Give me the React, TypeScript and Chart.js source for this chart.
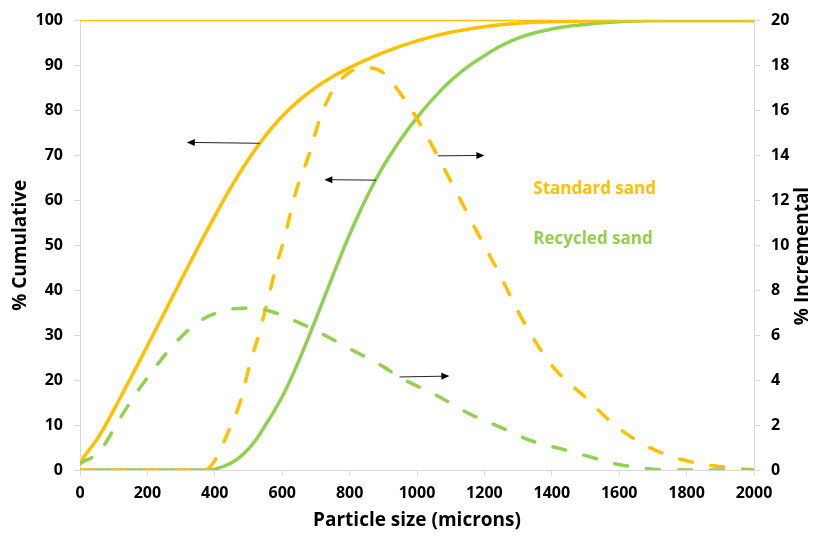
import React, { useEffect, useRef } from "react";
import { Chart, registerables } from "chart.js";

Chart.register(...registerables);

// ---------- data ----------
const xTickStep = 200;
const xMax = 2000;
const leftTickStep = 10;
const rightTickStep = 2;

// Standard sand, cumulative (%), left axis
const stdCumX = [0, 15, 32, 62, 121, 190, 230, 260, 300, 345, 400, 450, 500, 550, 600, 650, 700, 750, 800, 900, 1000, 1100, 1200, 1300, 1400, 1500, 1600, 2000];
const stdCumY = [1.2, 3.3, 4.9, 8.2, 16.3, 26.2, 32.0, 36.4, 42.3, 48.8, 56.5, 63.15, 69.15, 74.35, 78.7, 82.25, 85.15, 87.55, 89.55, 92.9, 95.5, 97.4, 98.65, 99.4, 99.78, 99.94, 100, 100];

// Recycled sand, cumulative (%), left axis
const recCumX = [0, 368, 400, 450, 487, 520, 547, 575, 606, 650, 700, 750, 800, 850, 900, 950, 1000, 1050, 1100, 1150, 1200, 1250, 1300, 1350, 1400, 1450, 1500, 1550, 1600, 1650, 1700, 2000];
const recCumY = [0, 0, 0.2, 1.6, 3.7, 6.5, 9.6, 13.0, 17.2, 24.4, 33.6, 43.2, 52.4, 60.6, 67.6, 73.4, 78.4, 82.8, 86.6, 89.7, 92.2, 94.4, 96.1, 97.3, 98.15, 98.75, 99.15, 99.5, 99.75, 99.9, 100, 100];

// Standard sand, incremental (%), right axis
const stdIncX = [0, 369, 398, 438, 477, 502, 532, 556, 581, 606, 641, 681, 711, 750, 800, 849, 898, 958, 1017, 1067, 1116, 1185, 1235, 1324, 1403, 1502, 1571, 1650, 1729, 1823, 1917, 2000];
const stdIncY = [0, 0, 0.37, 1.63, 3.1, 4.6, 6.1, 7.5, 9.0, 10.3, 12.4, 14.1, 15.6, 16.9, 17.7, 17.9, 17.7, 16.6, 15.2, 13.8, 12.4, 10.4, 9.0, 6.4, 4.6, 3.2, 2.2, 1.33, 0.74, 0.33, 0.12, 0];

// Recycled sand, incremental (%), right axis
const recIncX = [0, 57, 121, 180, 230, 289, 358, 438, 487, 556, 636, 700, 800, 900, 948, 1067, 1156, 1245, 1334, 1423, 1512, 1581, 1680, 1750, 2000];
const recIncY = [0.3, 0.81, 2.36, 3.7, 4.7, 5.76, 6.65, 7.13, 7.2, 7.1, 6.65, 6.2, 5.4, 4.6, 4.14, 3.25, 2.5, 1.92, 1.33, 0.96, 0.59, 0.3, 0.07, 0, 0];

// annotation arrows (data coordinates): axis, from (x1,y1) to head (x2,y2)
const arrowAxis = ["y", "y", "y1", "y1"];
const arrowX1 = [533, 879, 1062, 948];
const arrowY1 = [72.7, 64.5, 13.98, 4.14];
const arrowX2 = [317, 725, 1200, 1096];
const arrowY2 = [72.9, 64.6, 14.0, 4.18];

// text labels (left-axis data coordinates)
const labelTexts = ["Standard sand", "Recycled sand"];
const labelX = [1345, 1345];
const labelY = [62.5, 51.3];

const xTitle = "Particle size (microns)";
const leftTitle = "% Cumulative";
const rightTitle = "% Incremental";

// ---------- styles ----------
const ORANGE = "#FFC000";
const GREEN = "#92D050";
const AXIS_GRAY = "#D9D9D9";
const FONT = "'Open Sans', 'DejaVu Sans', sans-serif";

const pts = (xs: number[], ys: number[]) => xs.map((x, i) => ({ x, y: ys[i] }));

const overlayPlugin = {
  id: "overlay",
  beforeDatasetsDraw(chart: any) {
    const { ctx, chartArea } = chart;
    ctx.save();
    ctx.strokeStyle = ORANGE;
    ctx.lineWidth = 1.5;
    ctx.beginPath();
    ctx.moveTo(chartArea.left, chartArea.top);
    ctx.lineTo(chartArea.right, chartArea.top);
    ctx.stroke();
    ctx.restore();
  },
  afterDatasetsDraw(chart: any) {
    const { ctx, scales } = chart;
    ctx.save();
    // arrows
    for (let i = 0; i < arrowAxis.length; i++) {
      const ys = scales[arrowAxis[i]];
      const x1 = scales.x.getPixelForValue(arrowX1[i]);
      const y1 = ys.getPixelForValue(arrowY1[i]);
      const x2 = scales.x.getPixelForValue(arrowX2[i]);
      const y2 = ys.getPixelForValue(arrowY2[i]);
      const ang = Math.atan2(y2 - y1, x2 - x1);
      const hl = 8, hw = 3.5;
      ctx.strokeStyle = "#222";
      ctx.lineWidth = 1;
      ctx.beginPath();
      ctx.moveTo(x1, y1);
      ctx.lineTo(x2 - Math.cos(ang) * hl * 0.8, y2 - Math.sin(ang) * hl * 0.8);
      ctx.stroke();
      ctx.fillStyle = "#000";
      ctx.beginPath();
      ctx.moveTo(x2, y2);
      ctx.lineTo(x2 - Math.cos(ang) * hl - Math.sin(ang) * hw, y2 - Math.sin(ang) * hl + Math.cos(ang) * hw);
      ctx.lineTo(x2 - Math.cos(ang) * hl + Math.sin(ang) * hw, y2 - Math.sin(ang) * hl - Math.cos(ang) * hw);
      ctx.closePath();
      ctx.fill();
    }
    // labels
    const colors = [ORANGE, GREEN];
    ctx.font = `bold 17px ${FONT}`;
    ctx.textAlign = "left";
    ctx.textBaseline = "middle";
    for (let i = 0; i < labelTexts.length; i++) {
      ctx.fillStyle = colors[i];
      ctx.fillText(labelTexts[i], scales.x.getPixelForValue(labelX[i]), scales.y.getPixelForValue(labelY[i]));
    }
    // right axis title (reads bottom-to-top)
    ctx.fillStyle = "#000";
    ctx.font = `bold 19px ${FONT}`;
    ctx.translate(803, 256);
    ctx.rotate(-Math.PI / 2);
    ctx.textAlign = "center";
    ctx.textBaseline = "middle";
    ctx.fillText(rightTitle, 0, 0);
    ctx.restore();
  },
};

export default function App() {
  const ref = useRef<HTMLCanvasElement | null>(null);
  useEffect(() => {
    if (!ref.current) return;
    const tickFont = { family: FONT, size: 16, weight: "bold" as const };
    const titleFont = { family: FONT, size: 19, weight: "bold" as const };
    const plain = (v: any) => String(v);
    const solid = (data: any, color: string, order: number) => ({
      data,
      borderColor: color,
      backgroundColor: color,
      borderWidth: 3.5,
      pointRadius: 0,
      fill: false,
      cubicInterpolationMode: "monotone" as const,
      yAxisID: "y",
      order,
    });
    const dashed = (data: any, color: string, order: number) => ({
      data,
      borderColor: color,
      backgroundColor: color,
      borderWidth: 3.5,
      borderDash: [13, 19],
      borderCapStyle: "round" as const,
      pointRadius: 0,
      fill: false,
      cubicInterpolationMode: "monotone" as const,
      yAxisID: "y1",
      order,
    });
    const chart = new Chart(ref.current, {
      type: "line",
      data: {
        datasets: [
          solid(pts(recCumX, recCumY), GREEN, 4),
          solid(pts(stdCumX, stdCumY), ORANGE, 3),
          dashed(pts(stdIncX, stdIncY), ORANGE, 2),
          dashed(pts(recIncX, recIncY), GREEN, 1),
        ],
      },
      options: {
        responsive: false,
        animation: false,
        layout: { padding: { top: 19, left: 0, right: 0, bottom: 0 } },
        plugins: { legend: { display: false }, tooltip: { enabled: false } },
        scales: {
          x: {
            type: "linear",
            min: 0,
            max: xMax,
            ticks: { stepSize: xTickStep, color: "#000", font: tickFont, padding: 8, maxRotation: 0, callback: plain },
            grid: { drawOnChartArea: false, drawTicks: true, tickLength: 6, color: AXIS_GRAY },
            border: { color: AXIS_GRAY },
            title: { display: true, text: xTitle, color: "#000", font: titleFont, padding: { top: 0, bottom: 5 } },
            afterFit: (s: any) => { s.height = 67; },
          },
          y: {
            position: "left",
            min: 0,
            max: 100,
            ticks: { stepSize: leftTickStep, color: "#000", font: tickFont, padding: 11, callback: plain },
            grid: { drawOnChartArea: false, drawTicks: true, tickLength: 6, color: AXIS_GRAY },
            border: { color: AXIS_GRAY },
            title: { display: true, text: leftTitle, color: "#000", font: titleFont, padding: { top: 9, bottom: 0 } },
            afterFit: (s: any) => { s.width = 80; },
          },
          y1: {
            position: "right",
            min: 0,
            max: 20,
            ticks: { stepSize: rightTickStep, color: "#000", font: tickFont, padding: 11, callback: plain },
            grid: { drawOnChartArea: false, drawTicks: true, tickLength: 6, color: AXIS_GRAY },
            border: { color: AXIS_GRAY },
            afterFit: (s: any) => { s.width = 59; },
          },
        },
      },
      plugins: [overlayPlugin],
    });
    return () => chart.destroy();
  }, []);
  return (
    <div style={{ position: "fixed", left: 0, top: 0, width: 813, height: 537, background: "#fff" }}>
      <canvas ref={ref} width={813} height={537} style={{ display: "block" }} />
    </div>
  );
}
